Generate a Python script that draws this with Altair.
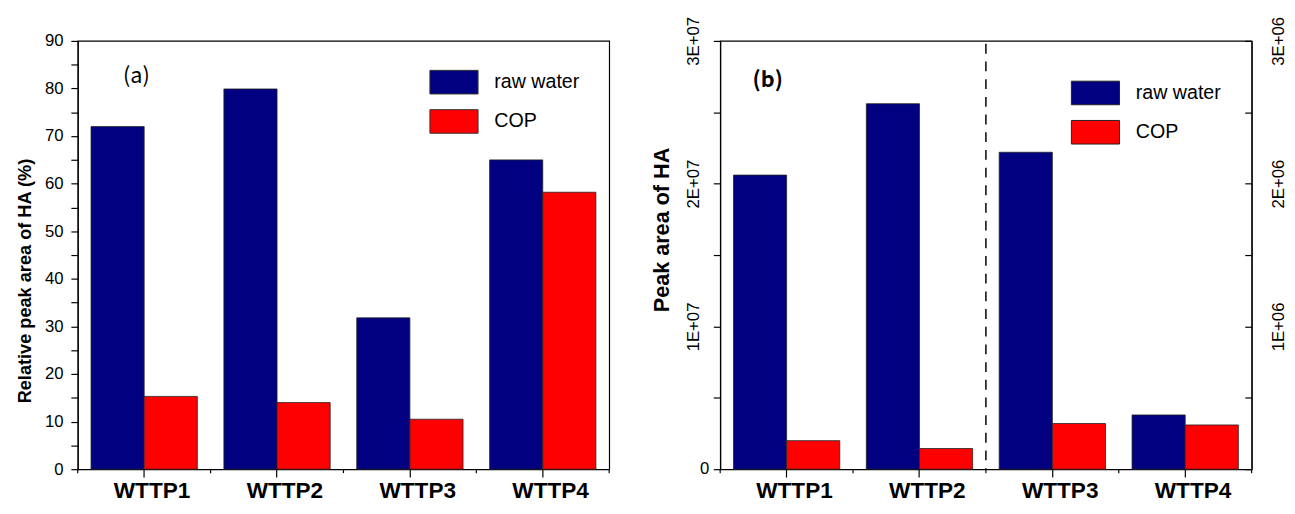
import altair as alt
import pandas as pd

sites = ["WTTP1", "WTTP2", "WTTP3", "WTTP4"]
series = ["raw water", "COP"]
colors = ["#000080", "#FF0000"]

# panel (a): relative peak area (%)
rel_raw = [72.0, 79.9, 31.8, 65.0]
rel_cop = [15.3, 14.0, 10.5, 58.2]

# panel (b): peak area, left scale (WTTP1-2) and right scale (WTTP3-4)
left_sites = ["WTTP1", "WTTP2"]
left_raw = [2.06e7, 2.56e7]
left_cop = [2.0e6, 1.45e6]
right_sites = ["WTTP3", "WTTP4"]
right_raw = [2.22e6, 3.8e5]
right_cop = [3.2e5, 3.1e5]

ticks_a = [0, 5, 10, 15, 20, 25, 30, 35, 40, 45, 50, 55, 60, 65, 70, 75, 80, 85, 90]
ticks_b_left = [0, 5e6, 1e7, 1.5e7, 2e7, 2.5e7, 3e7]
ticks_b_right = [0, 5e5, 1e6, 1.5e6, 2e6, 2.5e6, 3e6]


def frame(cats, raw, cop):
    rows = []
    for c, r, p in zip(cats, raw, cop):
        rows.append({"site": c, "series": "raw water", "value": r})
        rows.append({"site": c, "series": "COP", "value": p})
    return pd.DataFrame(rows)


df_a = frame(sites, rel_raw, rel_cop)
df_bl = frame(left_sites, left_raw, left_cop)
df_br = frame(right_sites, right_raw, right_cop)
df_sites = pd.DataFrame({"site": sites})
df_last = pd.DataFrame({"site": [sites[-1]]})

W, H = 541, 436
FONT = "Liberation Sans"

x_axis = alt.Axis(labelFontSize=23, labelFontWeight="bold", labelOffset=8, tickSize=8,
                  labelPadding=3, title=None, labelAngle=0, domain=True)
x_enc = alt.X("site:N", scale=alt.Scale(domain=sites, paddingInner=0, paddingOuter=0), axis=x_axis)
xoff = alt.XOffset("series:N", scale=alt.Scale(domain=series, paddingOuter=0.25, paddingInner=0))


def color_enc(lx, ly):
    return alt.Color("series:N", scale=alt.Scale(domain=series, range=colors),
                     legend=alt.Legend(orient="none", legendX=lx, legendY=ly, title=None,
                                       symbolType="M-1,-0.49H1V0.49H-1Z", symbolSize=2401,
                                       symbolStrokeColor="#333", symbolStrokeWidth=1,
                                       symbolOpacity=1, labelFontSize=20, labelFont=FONT,
                                       labelColor="black", labelOffset=16, rowPadding=-13))


bar_style = dict(stroke="#222", strokeWidth=0.8)


def boundary_ticks():
    t1 = alt.Chart(df_sites).mark_rule(color="black", strokeWidth=1.2).encode(
        x=alt.X("site:N", bandPosition=0), y=alt.value(H), y2=alt.value(H + 4))
    t2 = alt.Chart(df_last).mark_rule(color="black", strokeWidth=1.2).encode(
        x=alt.X("site:N", bandPosition=1), y=alt.value(H), y2=alt.value(H + 4))
    return [t1, t2]


# ---------------- panel (a)
bars_a = alt.Chart(df_a).mark_bar(**bar_style).encode(
    x=x_enc, xOffset=xoff,
    y=alt.Y("value:Q", scale=alt.Scale(domain=[0, 90], nice=False),
            axis=alt.Axis(values=ticks_a,
                          labelExpr="datum.value % 10 == 0 ? datum.label : ''",
                          title="Relative peak area of HA (%)", titleFontSize=18.5,
                          titleFont=FONT, titleFontWeight="bold", titlePadding=10,
                          titleY=244, tickSize=7, labelPadding=8)),
    color=color_enc(358, 17),
)
label_a = alt.Chart(df_last).mark_text(align="left", baseline="middle", fontSize=22,
                                        font="Noto Sans CJK SC").encode(
    x=alt.value(46), y=alt.value(36), text=alt.value("(a)"))

panel_a = alt.layer(bars_a, *boundary_ticks(), label_a).properties(width=W, height=H)

# ---------------- panel (b)
bars_bl = alt.Chart(df_bl).mark_bar(**bar_style).encode(
    x=x_enc, xOffset=xoff,
    y=alt.Y("value:Q", scale=alt.Scale(domain=[0, 3e7], nice=False),
            axis=alt.Axis(orient="left", values=ticks_b_left,
                          labelExpr="datum.value > 0 && datum.value % 10000000 == 0 ? format(datum.value / 10000000, 'd') + 'E+07' : ''",
                          labelAngle=-90, labelAlign="center", labelBaseline="bottom",
                          title="Peak area of HA", titleFontSize=22, titleFont=FONT,
                          titleFontWeight="bold", titlePadding=12, titleY=192,
                          tickSize=7, labelPadding=11)),
    color=color_enc(357, 28),
)
bars_br = alt.Chart(df_br).mark_bar(**bar_style).encode(
    x=x_enc, xOffset=xoff,
    y=alt.Y("value:Q", scale=alt.Scale(domain=[0, 3e6], nice=False),
            axis=alt.Axis(orient="right", values=ticks_b_right,
                          labelExpr="datum.value > 0 && datum.value % 1000000 == 0 ? format(datum.value / 1000000, 'd') + 'E+06' : ''",
                          labelAngle=-90, labelAlign="center", labelBaseline="top",
                          ticks=False, labelPadding=19, title=None)),
    color="series:N",
)
ticks_br = alt.Chart(df_br).mark_bar(opacity=0).encode(
    x=x_enc, xOffset=xoff,
    y=alt.Y("value:Q", scale=alt.Scale(domain=[0, 3e6], nice=False),
            axis=alt.Axis(orient="left", offset=-W, values=ticks_b_right, labels=False,
                          domain=False, tickSize=7, title=None)),
)
zero_b = alt.Chart(pd.DataFrame({"v": [0]})).mark_text(
    align="right", baseline="middle", fontSize=17, font=FONT).encode(
    x=alt.value(-11),
    y=alt.Y("v:Q", scale=alt.Scale(domain=[0, 3e7], nice=False), axis=None),
    text=alt.value("0"))
divider = alt.Chart(pd.DataFrame({"site": [right_sites[0]]})).mark_rule(
    color="black", strokeWidth=1.5, strokeDash=[10, 8]).encode(
    x=alt.X("site:N", bandPosition=0), y=alt.value(3), y2=alt.value(H))
label_b = alt.Chart(df_last).mark_text(align="left", baseline="middle", fontSize=22,
                                        fontWeight="bold", font="Noto Sans CJK SC").encode(
    x=alt.value(33), y=alt.value(40), text=alt.value("(b)"))

panel_b = alt.layer(bars_bl, bars_br, ticks_br, zero_b, divider, *boundary_ticks(), label_b).resolve_scale(
    y="independent").properties(width=W, height=H)

chart = alt.hconcat(panel_a, panel_b, spacing=39).resolve_scale(
    color="independent").resolve_legend(color="independent").properties(
    padding={"top": 3, "left": 7, "right": 0, "bottom": 0}, background="white"
).configure_view(stroke="black", strokeWidth=1.2).configure_axis(
    labelFont=FONT, labelFontSize=17, labelColor="black", tickColor="black",
    domainColor="black", domainWidth=1.2, tickWidth=1.2, grid=False, titleColor="black"
)

chart.save("out.html", embed_options={"renderer": "svg", "actions": False})
